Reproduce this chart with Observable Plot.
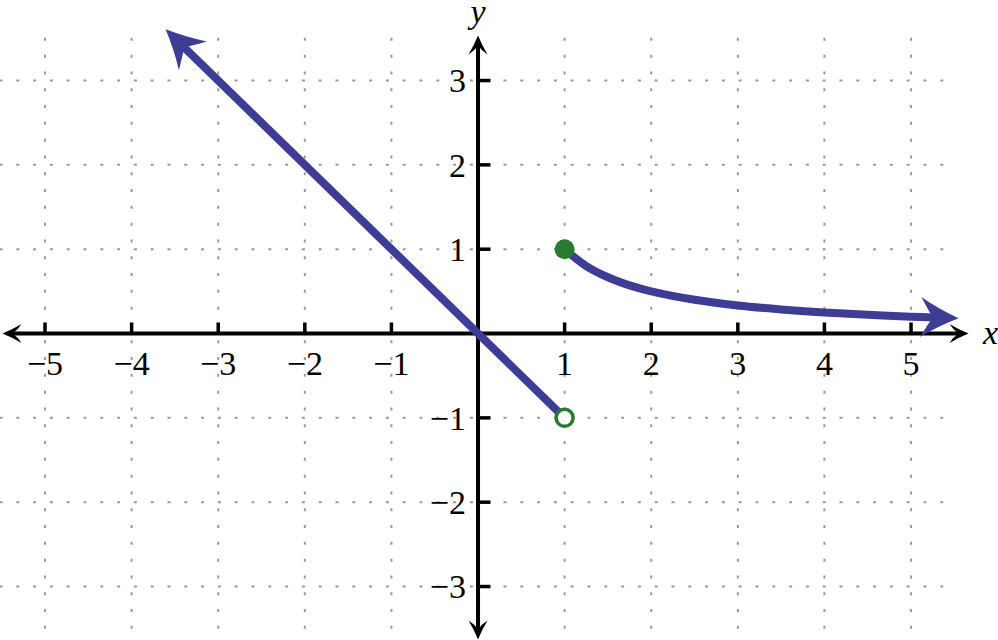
<!DOCTYPE html>
<html>
<head>
<meta charset="utf-8">
<script src="https://cdn.jsdelivr.net/npm/d3@7"></script>
<script src="https://cdn.jsdelivr.net/npm/@observablehq/plot@0.6"></script>
<style>
  html, body { margin: 0; padding: 0; background: #fff; }
  #chart svg { display: block; }
  #chart svg text { font-family: "Liberation Serif", "Times New Roman", Times, serif !important; }
</style>
</head>
<body>
<div id="chart"></div>
<script>
// ---- data ----
const xTickValues = [-5, -4, -3, -2, -1, 1, 2, 3, 4, 5];
const yTickValues = [-3, -2, -1, 1, 2, 3];
const xTickLabels = ["−5", "−4", "−3", "−2", "−1", "1", "2", "3", "4", "5"];
const yTickLabels = ["−3", "−2", "−1", "1", "2", "3"];

// left piece: y = -x for x < 1 (ends in an arrow toward upper-left)
const leftX = [1, -3.45];
const leftY = [-1, 3.45];
// right piece: y = 1/x for x >= 1 (ends in an arrow toward right)
const rightX = [1, 1.25, 1.5, 1.75, 2, 2.5, 3, 3.5, 4, 4.5, 5, 5.33];
const rightY = [1, 0.8, 0.667, 0.571, 0.5, 0.4, 0.333, 0.286, 0.25, 0.222, 0.2, 0.188];

const closedPointX = [1], closedPointY = [1];
const openPointX = [1], openPointY = [-1];

// axes extent (ends of the axis arrows)
const xAxisEnds = [-5.387, 5.56];
const yAxisEnds = [-3.52, 3.427];
const gridXExtent = [-5.52, 5.5];
const gridYExtent = [-3.64, 3.5];
const axisTitleX = [{text: "x", x: 5.918, y: 0}];
const axisTitleY = [{text: "y", x: 0, y: 3.81}];

// ---- layout ----
const W = 998, H = 640;
const xDomain = [-5.514, 6.010];
const yDomain = [-3.640, 3.949];
const kx = W / (xDomain[1] - xDomain[0]);
const ky = H / (yDomain[1] - yDomain[0]);
const angleOf = (dx, dy) => Math.atan2(-dy * ky, dx * kx) * 180 / Math.PI;

const BLUE = "#3d3d96";
const GREEN = "#2a7a32";
const GRID = "#9a9a9a";
const SERIF = "Liberation Serif";

// concave arrowhead symbol pointing +x; the anchor sits `back` px behind the tip
function arrowSymbol(L, Wd, notch, back) {
  return {
    draw(ctx) {
      const t = back;
      ctx.moveTo(t, 0);
      ctx.quadraticCurveTo(t - L * 0.55, -Wd * 0.45, t - L, -Wd);
      ctx.quadraticCurveTo(t - L * 0.8, -Wd * 0.35, t - notch, 0);
      ctx.quadraticCurveTo(t - L * 0.8, Wd * 0.35, t - L, Wd);
      ctx.quadraticCurveTo(t - L * 0.55, Wd * 0.45, t, 0);
      ctx.closePath();
    }
  };
}

const leftData = leftX.map((x, i) => ({x, y: leftY[i]}));
const rightData = rightX.map((x, i) => ({x, y: rightY[i]}));

function endArrow(data) {
  const a = data[data.length - 2], b = data[data.length - 1];
  return {x: b.x, y: b.y, angle: angleOf(b.x - a.x, b.y - a.y)};
}
const curveArrows = [endArrow(leftData), endArrow(rightData)];
const axisArrows = [
  {x: xAxisEnds[0], y: 0, angle: 180},
  {x: xAxisEnds[1], y: 0, angle: 0},
  {x: 0, y: yAxisEnds[1], angle: -90},
  {x: 0, y: yAxisEnds[0], angle: 90}
];

const xTicks = xTickValues.map((v, i) => ({v, label: xTickLabels[i]}));
const yTicks = yTickValues.map((v, i) => ({v, label: yTickLabels[i]}));

const chart = Plot.plot({
  width: W,
  height: H,
  margin: 0,
  x: {domain: xDomain, axis: null},
  y: {domain: yDomain, axis: null},
  style: {background: "#fff", fontFamily: SERIF},
  marks: [
    // dotted grid
    Plot.ruleY(yTickValues, {x1: gridXExtent[0], x2: gridXExtent[1], stroke: GRID, strokeWidth: 2, strokeDasharray: "3,13.8"}),
    Plot.ruleX(xTickValues, {y1: gridYExtent[1], y2: gridYExtent[0], stroke: GRID, strokeWidth: 2, strokeDasharray: "3,13.8"}),
    // axes
    Plot.ruleY([0], {x1: xAxisEnds[0], x2: xAxisEnds[1], stroke: "#000", strokeWidth: 4}),
    Plot.ruleX([0], {y1: yAxisEnds[0], y2: yAxisEnds[1], stroke: "#000", strokeWidth: 4}),
    Plot.dot(axisArrows, {x: "x", y: "y", rotate: "angle", symbol: arrowSymbol(19, 9.5, 10, 9), fill: "#000", stroke: "none"}),
    // tick marks
    Plot.ruleX(xTickValues, {y1: 0, y2: 0.125, stroke: "#000", strokeWidth: 3.5}),
    Plot.ruleY(yTickValues, {x1: 0, x2: 0.15, stroke: "#000", strokeWidth: 3.5}),
    // tick labels
    Plot.text(xTicks, {x: "v", y: 0, text: "label", dy: 31, fontSize: 34, fontFamily: SERIF, fill: "#000", textAnchor: "middle"}),
    Plot.text(yTicks, {x: 0, y: "v", text: "label", dx: -12, dy: 1, fontSize: 34, fontFamily: SERIF, fill: "#000", textAnchor: "end"}),
    // axis titles
    Plot.text(axisTitleX, {x: "x", y: "y", text: "text", fontSize: 34, fontFamily: SERIF, fontStyle: "italic", fill: "#000"}),
    Plot.text(axisTitleY, {x: "x", y: "y", text: "text", fontSize: 34, fontFamily: SERIF, fontStyle: "italic", fill: "#000"}),
    // function pieces
    Plot.line(leftData, {x: "x", y: "y", stroke: BLUE, strokeWidth: 8, strokeLinecap: "butt"}),
    Plot.line(rightData, {x: "x", y: "y", stroke: BLUE, strokeWidth: 8, curve: "catmull-rom", strokeLinecap: "butt"}),
    Plot.dot(curveArrows, {x: "x", y: "y", rotate: "angle", symbol: arrowSymbol(38, 20, 26, 19), fill: BLUE, stroke: "none"}),
    // endpoints
    Plot.dot(closedPointX.map((x, i) => ({x, y: closedPointY[i]})), {x: "x", y: "y", r: 10, fill: GREEN, stroke: "none"}),
    Plot.dot(openPointX.map((x, i) => ({x, y: openPointY[i]})), {x: "x", y: "y", r: 8.5, fill: "#fff", stroke: GREEN, strokeWidth: 3.5})
  ]
});
document.getElementById("chart").appendChild(chart);
</script>
</body>
</html>
